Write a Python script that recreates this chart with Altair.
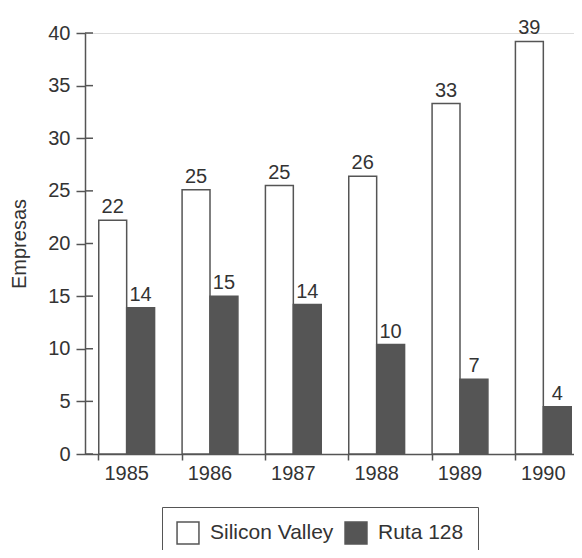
import altair as alt
import pandas as pd

years = ["1985", "1986", "1987", "1988", "1989", "1990"]
silicon_valley = [22.2, 25.1, 25.5, 26.4, 33.3, 39.2]
ruta_128 = [13.9, 15.0, 14.2, 10.4, 7.1, 4.5]
sv_labels = ["22", "25", "25", "26", "33", "39"]
ruta_labels = ["14", "15", "14", "10", "7", "4"]
series = ["Silicon Valley", "Ruta 128"]
y_ticks = [0, 5, 10, 15, 20, 25, 30, 35, 40]

rows = []
for i, yr in enumerate(years):
    rows.append({"year": yr, "serie": series[0], "value": silicon_valley[i], "label": sv_labels[i]})
    rows.append({"year": yr, "serie": series[1], "value": ruta_128[i], "label": ruta_labels[i]})
df = pd.DataFrame(rows)
ticks_df = pd.DataFrame({"t": y_ticks})

FONT = "Liberation Sans"
AX = "#555555"
TXT = "#333333"
FS = 20

yscale = alt.Scale(domain=[0, 40], nice=False, zero=True)

x = alt.X("year:N", title=None,
          scale=alt.Scale(paddingInner=0.33, paddingOuter=0.165),
          axis=alt.Axis(bandPosition=0, labelOffset=0, labelAngle=0, labelFontSize=FS,
                        labelColor=TXT, labelFont=FONT, domainColor=AX, domainWidth=1.5,
                        tickColor=AX, tickSize=6, tickWidth=1.5, labelPadding=3))
xoff = alt.XOffset("serie:N", sort=series, scale=alt.Scale(paddingInner=0, paddingOuter=0))
y = alt.Y("value:Q", scale=yscale,
          axis=alt.Axis(values=y_ticks, title="Empresas", titleFont=FONT, titleFontSize=FS,
                        titleFontWeight="normal", titleColor=TXT, titlePadding=18,
                        labelFontSize=FS, labelFont=FONT, labelColor=TXT, labelPadding=6,
                        domainColor=AX, domainWidth=1.5, tickColor=AX, tickWidth=1.5,
                        tickSize=9, grid=False))

bars = alt.Chart(df).mark_bar(stroke=AX, strokeWidth=1.5).encode(
    x=x, xOffset=xoff, y=y,
    fill=alt.Fill("serie:N", sort=series,
                  scale=alt.Scale(domain=series, range=["#ffffff", "#555555"]),
                  legend=alt.Legend(title=None, orient="none", legendX=77, legendY=474,
                                    direction="horizontal", columns=2, symbolType="square",
                                    symbolSize=480, symbolStrokeColor=AX, symbolStrokeWidth=1.5,
                                    labelFontSize=FS + 1, labelFont=FONT, labelColor=TXT,
                                    strokeColor=AX, padding=14, columnPadding=8,
                                    labelOffset=10, fillColor="white")),
)

labels = alt.Chart(df).mark_text(baseline="bottom", dy=-3, fontSize=FS, font=FONT, color=TXT).encode(
    x=x, xOffset=xoff, y=alt.Y("value:Q"), text="label:N")

inner_ticks = alt.Chart(ticks_df).mark_rule(color=AX, strokeWidth=1.5).encode(
    y=alt.Y("t:Q", scale=yscale),
    x=alt.value(0), x2=alt.value(8))

chart = alt.layer(bars, labels, inner_ticks).properties(
    width=500, height=421,
    autosize=alt.AutoSizeParams(type="none"),
    padding={"left": 77, "top": 25, "right": -11, "bottom": 96},
).configure_view(strokeOpacity=0, strokeWidth=0).configure(font=FONT)

chart.save("out.html", embed_options={"renderer": "svg", "actions": False})
